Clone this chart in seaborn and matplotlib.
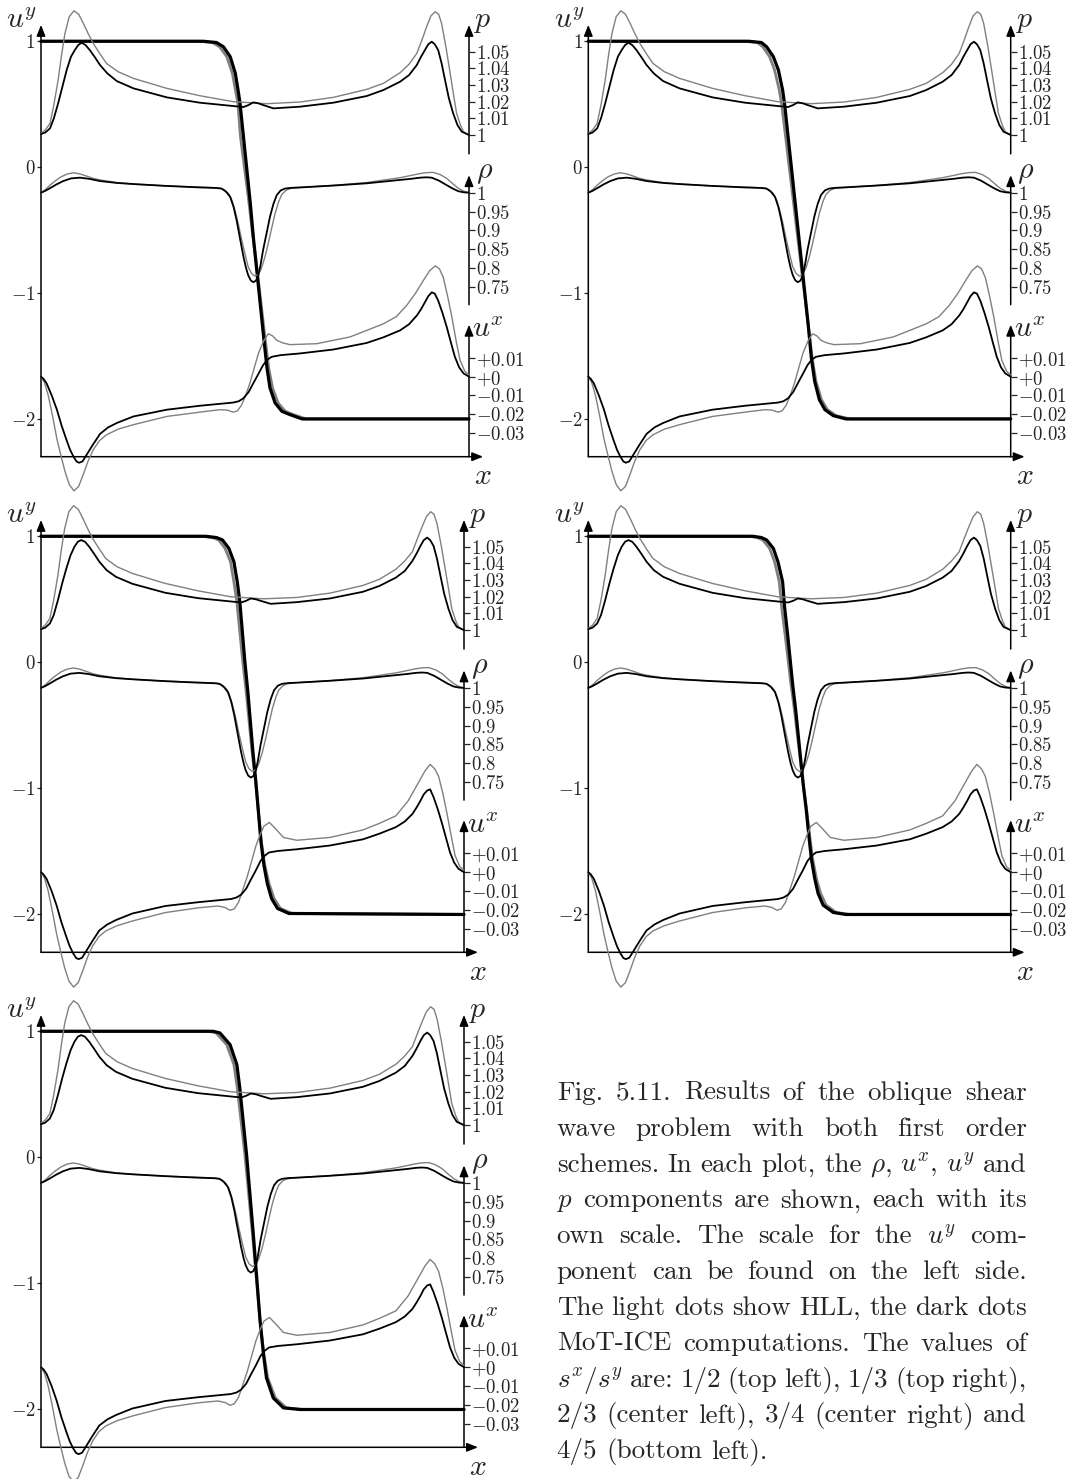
import matplotlib
matplotlib.use("Agg")
import matplotlib.pyplot as plt
import seaborn as sns

# ---------------- data (x is the fraction of the domain) ----------------
# pressure p
P_X_HLL = [0, 0.010, 0.021, 0.030, 0.040, 0.048, 0.056, 0.066, 0.077, 0.088, 0.099, 0.110, 0.122, 0.137,
           0.153, 0.180, 0.216, 0.255, 0.294, 0.371, 0.449, 0.527, 0.605, 0.683, 0.761, 0.800, 0.839, 0.860,
           0.878, 0.890, 0.901, 0.911, 0.921, 0.929, 0.936, 0.946, 0.956, 0.964, 0.971, 0.980, 0.987, 1.0]
P_HLL_A = [1.001, 1.003, 1.007, 1.018, 1.033, 1.048, 1.061, 1.071, 1.0746, 1.0725, 1.067, 1.061, 1.055,
           1.049, 1.043, 1.038, 1.034, 1.031, 1.028, 1.0236, 1.020, 1.0188, 1.0198, 1.0226, 1.0274, 1.031,
           1.0374, 1.0425, 1.049, 1.057, 1.065, 1.0715, 1.074, 1.0725, 1.067, 1.053, 1.037, 1.024, 1.013,
           1.006, 1.002, 1.0]
P_HLL_B = [1.001, 1.003, 1.007, 1.018, 1.033, 1.048, 1.061, 1.071, 1.0746, 1.0725, 1.067, 1.061, 1.055,
           1.049, 1.043, 1.038, 1.034, 1.031, 1.028, 1.0236, 1.020, 1.0188, 1.0196, 1.0222, 1.0268, 1.0305,
           1.0365, 1.0415, 1.047, 1.055, 1.062, 1.068, 1.071, 1.0695, 1.064, 1.051, 1.036, 1.024, 1.013,
           1.006, 1.002, 1.0]
P_X_MOT = [0, 0.010, 0.021, 0.030, 0.040, 0.050, 0.060, 0.070, 0.079, 0.087, 0.095, 0.104, 0.114, 0.125,
           0.138, 0.155, 0.177, 0.216, 0.294, 0.371, 0.449, 0.473, 0.485, 0.496, 0.508, 0.519, 0.543, 0.605,
           0.683, 0.761, 0.800, 0.839, 0.860, 0.878, 0.888, 0.897, 0.905, 0.913, 0.920, 0.928, 0.936, 0.944,
           0.953, 0.963, 0.973, 0.983, 1.0]
P_MOT_A = [1.0006, 1.0015, 1.004, 1.010, 1.019, 1.029, 1.039, 1.047, 1.051, 1.054, 1.0554, 1.054, 1.051,
           1.047, 1.042, 1.037, 1.0324, 1.028, 1.0226, 1.0194, 1.0174, 1.0168, 1.018, 1.0196, 1.019, 1.018,
           1.016, 1.017, 1.0194, 1.0234, 1.027, 1.032, 1.036, 1.042, 1.047, 1.051, 1.0545, 1.056, 1.0545,
           1.051, 1.043, 1.033, 1.022, 1.013, 1.006, 1.002, 1.0]
P_MOT_B = [1.0006, 1.0015, 1.004, 1.009, 1.018, 1.028, 1.037, 1.045, 1.050, 1.053, 1.054, 1.053, 1.050,
           1.046, 1.041, 1.036, 1.032, 1.0278, 1.0224, 1.0192, 1.0172, 1.0166, 1.0176, 1.019, 1.0185, 1.0176,
           1.0158, 1.0168, 1.019, 1.023, 1.0265, 1.0315, 1.0355, 1.0415, 1.046, 1.0505, 1.054, 1.0555, 1.054,
           1.0505, 1.043, 1.033, 1.022, 1.013, 1.006, 1.002, 1.0]

# density rho
R_X_HLL = [0, 0.010, 0.021, 0.035, 0.048, 0.062, 0.076, 0.091, 0.107, 0.122, 0.138, 0.177, 0.216, 0.294,
           0.371, 0.405, 0.418, 0.428, 0.438, 0.446, 0.453, 0.461, 0.469, 0.477, 0.484, 0.492, 0.500, 0.508,
           0.515, 0.523, 0.531, 0.539, 0.547, 0.555, 0.562, 0.572, 0.582, 0.605, 0.683, 0.761, 0.839, 0.865,
           0.886, 0.902, 0.917, 0.933, 0.948, 0.962, 0.975, 0.988, 1.0]
R_HLL = [1.0, 1.008, 1.020, 1.033, 1.043, 1.050, 1.053, 1.050, 1.044, 1.038, 1.034, 1.027, 1.023, 1.018,
         1.015, 1.0135, 1.012, 1.008, 0.998, 0.980, 0.954, 0.917, 0.874, 0.835, 0.803, 0.785, 0.778, 0.783,
         0.799, 0.828, 0.865, 0.906, 0.945, 0.975, 0.994, 1.006, 1.011, 1.014, 1.0195, 1.027, 1.040, 1.046,
         1.051, 1.0535, 1.054, 1.048, 1.038, 1.024, 1.012, 1.004, 1.0]
R_X_MOT = [0, 0.010, 0.021, 0.036, 0.052, 0.070, 0.091, 0.112, 0.138, 0.177, 0.216, 0.294, 0.371, 0.410,
           0.422, 0.432, 0.442, 0.450, 0.457, 0.465, 0.473, 0.479, 0.484, 0.490, 0.496, 0.502, 0.508, 0.513,
           0.519, 0.527, 0.535, 0.543, 0.551, 0.560, 0.570, 0.585, 0.605, 0.683, 0.761, 0.839, 0.865, 0.886,
           0.900, 0.913, 0.930, 0.948, 0.962, 0.975, 0.988, 1.0]
R_MOT = [1.0, 1.005, 1.012, 1.022, 1.031, 1.038, 1.040, 1.037, 1.031, 1.026, 1.023, 1.018, 1.014, 1.0125,
         1.011, 1.003, 0.989, 0.962, 0.927, 0.878, 0.830, 0.800, 0.781, 0.767, 0.762, 0.766, 0.781, 0.808,
         0.848, 0.892, 0.936, 0.970, 0.994, 1.006, 1.011, 1.013, 1.014, 1.019, 1.025, 1.034, 1.037, 1.040,
         1.041, 1.040, 1.032, 1.020, 1.011, 1.004, 1.001, 1.0]

# velocity u^x
UX_X_MOT = [0, 0.006, 0.013, 0.025, 0.037, 0.048, 0.060, 0.068, 0.076, 0.083, 0.089, 0.097, 0.107, 0.122,
            0.138, 0.157, 0.177, 0.216, 0.294, 0.371, 0.449, 0.462, 0.473, 0.485, 0.496, 0.508, 0.519, 0.529,
            0.539, 0.560, 0.605, 0.683, 0.761, 0.800, 0.839, 0.860, 0.878, 0.888, 0.897, 0.905, 0.913, 0.920,
            0.928, 0.938, 0.948, 0.958, 0.967, 0.977, 0.987, 1.0]
UX_MOT_A = [0, -0.0012, -0.0035, -0.010, -0.0175, -0.026, -0.034, -0.039, -0.0427, -0.0452, -0.0459,
            -0.0452, -0.0415, -0.036, -0.0305, -0.027, -0.0247, -0.0212, -0.0176, -0.0155, -0.0138, -0.0131,
            -0.0115, -0.0082, -0.0035, 0.0015, 0.0062, 0.0091, 0.0106, 0.0115, 0.0124, 0.0145, 0.018, 0.021,
            0.0247, 0.028, 0.0326, 0.036, 0.0397, 0.043, 0.045, 0.0443, 0.0406, 0.034, 0.0265, 0.018, 0.0106,
            0.005, 0.0018, 0]
UX_MOT_B = [0, -0.0012, -0.0035, -0.010, -0.0178, -0.0265, -0.0345, -0.0395, -0.0432, -0.0457, -0.0463,
            -0.0456, -0.042, -0.0365, -0.031, -0.0278, -0.0255, -0.022, -0.018, -0.016, -0.0143, -0.0135,
            -0.012, -0.0088, -0.004, 0.001, 0.006, 0.0088, 0.0105, 0.0113, 0.0122, 0.0142, 0.0175, 0.0205,
            0.024, 0.027, 0.031, 0.0345, 0.038, 0.0415, 0.0435, 0.0441, 0.040, 0.0335, 0.026, 0.0178, 0.0105,
            0.005, 0.0018, 0]
UX_X_HLL_A = [0, 0.008, 0.017, 0.027, 0.037, 0.046, 0.056, 0.066, 0.077, 0.088, 0.099, 0.110, 0.122, 0.137,
              0.153, 0.180, 0.216, 0.294, 0.371, 0.418, 0.435, 0.449, 0.459, 0.469, 0.478, 0.488, 0.498,
              0.508, 0.520, 0.531, 0.541, 0.551, 0.565, 0.582, 0.644, 0.722, 0.800, 0.830, 0.854, 0.875,
              0.893, 0.908, 0.921, 0.931, 0.940, 0.950, 0.960, 0.970, 0.979, 0.990, 1.0]
UX_HLL_A = [0, -0.003, -0.010, -0.021, -0.033, -0.0415, -0.0505, -0.0575, -0.0609, -0.0585, -0.052, -0.045,
            -0.039, -0.034, -0.031, -0.028, -0.0256, -0.0212, -0.0189, -0.0176, -0.0178, -0.0189,
            -0.0182, -0.015, -0.010, -0.0035, 0.0045, 0.0124, 0.019, 0.0229, 0.0218, 0.0194, 0.018, 0.0171,
            0.0176, 0.0212, 0.0282, 0.032, 0.0379, 0.0445, 0.0512, 0.0565, 0.0591, 0.0575, 0.0529, 0.043,
            0.0318, 0.019, 0.0088, 0.003, 0.0009]
UX_X_HLL_B = [0, 0.008, 0.017, 0.027, 0.037, 0.046, 0.056, 0.066, 0.077, 0.088, 0.099, 0.110, 0.122, 0.137,
              0.153, 0.180, 0.216, 0.294, 0.371, 0.418, 0.435, 0.447, 0.457, 0.467, 0.477, 0.488, 0.498,
              0.508, 0.518, 0.527, 0.540, 0.555, 0.573, 0.605, 0.683, 0.761, 0.800, 0.839, 0.868, 0.893,
              0.908, 0.920, 0.931, 0.940, 0.950, 0.960, 0.970, 0.979, 0.990, 1.0]
UX_HLL_B = [0, -0.003, -0.010, -0.021, -0.033, -0.0418, -0.051, -0.058, -0.0612, -0.0588, -0.0523, -0.0453,
            -0.0393, -0.0343, -0.0313, -0.0285, -0.026, -0.0215, -0.019, -0.018, -0.0188, -0.0203,
            -0.0195, -0.016, -0.0095, -0.002, 0.006, 0.014, 0.020, 0.0245, 0.0265, 0.023, 0.0185, 0.017,
            0.0185, 0.0225, 0.026, 0.030, 0.038, 0.048, 0.054, 0.0574, 0.055, 0.051, 0.042, 0.031, 0.019,
            0.0088, 0.003, 0.0009]

# velocity u^y, one profile per panel (TL, TR, CL, CR, BL)
UY_X_MOT_TL = [0, 0.38, 0.41, 0.426, 0.442, 0.454, 0.461, 0.465, 0.473, 0.481, 0.489, 0.496, 0.504, 0.512,
               0.520, 0.528, 0.535, 0.547, 0.563, 0.582, 0.61, 1.0]
UY_X_HLL_TL = [0, 0.37, 0.40, 0.417, 0.434, 0.447, 0.455, 0.460, 0.466, 0.476, 0.486, 0.495, 0.505, 0.514,
               0.523, 0.532, 0.541, 0.554, 0.571, 0.590, 0.62, 1.0]
UY_TL = [1, 1, 0.99, 0.957, 0.878, 0.746, 0.600, 0.508, 0.243, -0.021, -0.286, -0.551, -0.815, -1.079,
         -1.344, -1.595, -1.754, -1.873, -1.940, -1.966, -2.0, -2.0]

UY_X_MOT_TR = [0, 0.38, 0.41, 0.422, 0.438, 0.450, 0.460, 0.465, 0.473, 0.481, 0.489, 0.497, 0.505, 0.513,
               0.521, 0.528, 0.536, 0.547, 0.560, 0.580, 0.61, 1.0]
UY_X_HLL_TR = [0, 0.37, 0.40, 0.413, 0.429, 0.441, 0.452, 0.458, 0.467, 0.476, 0.485, 0.494, 0.503, 0.512,
               0.521, 0.530, 0.539, 0.552, 0.566, 0.587, 0.62, 1.0]
UY_TR = [1, 1, 0.99, 0.957, 0.878, 0.772, 0.613, 0.494, 0.243, -0.008, -0.259, -0.511, -0.762, -1.013,
         -1.265, -1.516, -1.702, -1.847, -1.926, -1.974, -2.0, -2.0]

UY_X_MOT_CL = [0, 0.39, 0.415, 0.429, 0.444, 0.456, 0.464, 0.470, 0.476, 0.482, 0.489, 0.495, 0.501, 0.508,
               0.514, 0.520, 0.527, 0.535, 0.545, 0.559, 0.586, 1.0]
UY_X_HLL_CL = [0, 0.38, 0.405, 0.420, 0.435, 0.448, 0.456, 0.463, 0.470, 0.477, 0.485, 0.492, 0.499, 0.507,
               0.514, 0.521, 0.529, 0.539, 0.551, 0.566, 0.594, 1.0]
UY_CL = [1, 1, 0.99, 0.971, 0.905, 0.798, 0.640, 0.481, 0.243, 0.005, -0.233, -0.471, -0.710, -0.948,
         -1.186, -1.424, -1.609, -1.754, -1.873, -1.952, -1.992, -2.0]

UY_X_MOT_CR = [0, 0.39, 0.41, 0.422, 0.438, 0.449, 0.460, 0.465, 0.472, 0.478, 0.484, 0.491, 0.497, 0.503,
               0.509, 0.516, 0.522, 0.528, 0.536, 0.544, 0.556, 0.580, 0.61, 1.0]
UY_X_HLL_CR = [0, 0.38, 0.40, 0.413, 0.429, 0.441, 0.452, 0.458, 0.466, 0.473, 0.480, 0.488, 0.495, 0.502,
               0.509, 0.517, 0.524, 0.531, 0.540, 0.550, 0.563, 0.587, 0.62, 1.0]
UY_CR = [1, 1, 0.99, 0.971, 0.905, 0.798, 0.640, 0.429, 0.217, 0.018, -0.180, -0.379, -0.577, -0.775,
         -0.974, -1.172, -1.371, -1.556, -1.714, -1.833, -1.926, -1.984, -2.0, -2.0]

UY_X_MOT_BL = [0, 0.407, 0.423, 0.447, 0.463, 0.470, 0.478, 0.486, 0.494, 0.502, 0.510, 0.518, 0.526,
               0.533, 0.549, 0.573, 0.612, 1.0]
UY_X_HLL_BL = [0, 0.397, 0.414, 0.439, 0.456, 0.464, 0.473, 0.482, 0.491, 0.500, 0.509, 0.518, 0.527,
               0.536, 0.554, 0.580, 0.62, 1.0]
UY_BL = [1, 1, 0.987, 0.894, 0.736, 0.551, 0.286, 0.022, -0.295, -0.612, -0.956, -1.300, -1.564, -1.749,
         -1.908, -1.987, -2.0, -2.0]

UY_TICKS = [-2, -1, 0, 1]
UY_LABELS = [r"$-2$", r"$-1$", r"$0$", r"$1$"]
P_TICKS = [1.0, 1.01, 1.02, 1.03, 1.04, 1.05]
P_LABELS = [r"$1$", r"$1.01$", r"$1.02$", r"$1.03$", r"$1.04$", r"$1.05$"]
R_TICKS = [0.75, 0.8, 0.85, 0.9, 0.95, 1.0]
R_LABELS = [r"$0.75$", r"$0.8$", r"$0.85$", r"$0.9$", r"$0.95$", r"$1$"]
UX_TICKS = [-0.03, -0.02, -0.01, 0.0, 0.01]
UX_LABELS = [r"$-0.03$", r"$-0.02$", r"$-0.01$", r"$+0$", r"$+0.01$"]

CAPTION = [
    r"Fig. 5.11. Results of the oblique shear",
    r"wave problem with both first order",
    r"schemes. In each plot, the $\rho$, $u^x$, $u^y$ and",
    r"$p$ components are shown, each with its",
    r"own scale. The scale for the $u^y$ com-",
    r"ponent can be found on the left side.",
    r"The light dots show HLL, the dark dots",
    r"MoT-ICE computations. The values of",
    r"$s^x/s^y$ are: 1/2 (top left), 1/3 (top right),",
    r"2/3 (center left), 3/4 (center right) and",
    r"4/5 (bottom left).",
]

# ---------------- style ----------------
sns.set_style("white")
plt.rcParams.update({
    "font.family": "cmr10",
    "mathtext.fontset": "cm",
    "axes.unicode_minus": False,
    "axes.formatter.use_mathtext": True,
})

W, H = 1091, 1479
fig = plt.figure(figsize=(W / 100, H / 100), dpi=100)

GRAY = "#808080"
BLACK = "#000000"
UY_LIM = (-2.3, 1.13)
P_LIM = (0.8069, 1.0661)
R_LIM = (0.2979, 1.4463)
UX_LIM = (-0.04267, 0.18763)
TICK_FS = 13.5
LAB_FS = 21.5


def curve(ax, x, y, color, lw):
    sns.lineplot(x=x, y=y, ax=ax, color=color, linewidth=lw, sort=False,
                 estimator=None, legend=False)
    ln = ax.lines[-1]
    ln.set_clip_on(False)
    ln.set_solid_capstyle("round")
    ln.set_solid_joinstyle("round")


def arrow(ax, x0, y0, x1, y1):
    ax.annotate("", xy=(x1, y1), xytext=(x0, y0), xycoords="axes fraction",
                textcoords="axes fraction", annotation_clip=False,
                arrowprops=dict(arrowstyle="-|>,head_length=0.55,head_width=0.22",
                                color="k", lw=1.1, shrinkA=0, shrinkB=0,
                                mutation_scale=12))


def clean(a):
    for s in a.spines.values():
        s.set_visible(False)
    a.set_xlim(0, 1)
    a.set_xticks([])
    a.set_xlabel("")
    a.set_ylabel("")
    a.patch.set_visible(False)


def twin(ax, lim, ticks, labels):
    tw = ax.twinx()
    clean(tw)
    tw.set_ylim(*lim)
    tw.set_yticks(ticks)
    tw.set_yticklabels(labels)
    tw.tick_params(axis="y", right=True, left=False, labelright=True, labelleft=False,
                   direction="out", length=4, width=0.9, pad=1, labelsize=TICK_FS)
    return tw


def panel(rect, uy_x_mot, uy_x_hll, uy, p_hll, p_mot, ux_x_hll, ux_hll, ux_mot):
    l, r, t, b = rect
    ax = fig.add_axes([l / W, 1 - b / H, (r - l) / W, (b - t) / H])
    clean(ax)
    ax.set_ylim(*UY_LIM)
    ax.set_yticks(UY_TICKS)
    ax.set_yticklabels(UY_LABELS)
    ax.tick_params(axis="y", left=True, direction="out", length=3, width=0.9,
                   pad=1, labelsize=TICK_FS)

    tp = twin(ax, P_LIM, P_TICKS, P_LABELS)
    tr = twin(ax, R_LIM, R_TICKS, R_LABELS)
    tu = twin(ax, UX_LIM, UX_TICKS, UX_LABELS)

    # u^y (left scale)
    curve(ax, uy_x_hll, uy, GRAY, 2.0)
    curve(ax, uy_x_mot, uy, BLACK, 2.3)
    # p
    curve(tp, P_X_HLL, p_hll, GRAY, 1.0)
    curve(tp, P_X_MOT, p_mot, BLACK, 1.3)
    # rho
    curve(tr, R_X_HLL, R_HLL, GRAY, 1.0)
    curve(tr, R_X_MOT, R_MOT, BLACK, 1.3)
    # u^x
    curve(tu, ux_x_hll, ux_hll, GRAY, 1.0)
    curve(tu, UX_X_MOT, ux_mot, BLACK, 1.3)
    for a, lim in ((tp, P_LIM), (tr, R_LIM), (tu, UX_LIM)):
        a.set_ylim(*lim)
        a.set_xlim(0, 1)
    ax.set_ylim(*UY_LIM)
    ax.set_xlim(0, 1)

    # axis lines with arrow heads
    arrow(ax, 0, 0, 0, 1)
    arrow(ax, 0, 0, 1.033, 0)
    arrow(ax, 1, 0.7013, 1, 1.0)
    arrow(ax, 1, 0.352, 1, 0.652)
    arrow(ax, 1, 0.0, 1, 0.3056)

    ax.text(-0.008, 0.992, r"$u^y$", transform=ax.transAxes, ha="right", va="baseline", fontsize=LAB_FS)
    ax.text(1.012, 0.994, r"$p$", transform=ax.transAxes, ha="left", va="baseline", fontsize=LAB_FS)
    ax.text(1.016, 0.645, r"$\rho$", transform=ax.transAxes, ha="left", va="baseline", fontsize=LAB_FS)
    ax.text(1.008, 0.277, r"$u^x$", transform=ax.transAxes, ha="left", va="baseline", fontsize=LAB_FS)
    ax.text(1.012, -0.063, r"$x$", transform=ax.transAxes, ha="left", va="baseline", fontsize=LAB_FS)


panel((41, 469, 24.9, 456.7), UY_X_MOT_TL, UY_X_HLL_TL, UY_TL, P_HLL_A, P_MOT_A, UX_X_HLL_A, UX_HLL_A, UX_MOT_A)
panel((588.3, 1010.7, 24.9, 456.7), UY_X_MOT_TR, UY_X_HLL_TR, UY_TR, P_HLL_A, P_MOT_A, UX_X_HLL_A, UX_HLL_A, UX_MOT_A)
panel((41, 464, 519.9, 952.3), UY_X_MOT_CL, UY_X_HLL_CL, UY_CL, P_HLL_B, P_MOT_B, UX_X_HLL_B, UX_HLL_B, UX_MOT_B)
panel((588.3, 1010.7, 519.9, 952.3), UY_X_MOT_CR, UY_X_HLL_CR, UY_CR, P_HLL_B, P_MOT_B, UX_X_HLL_B, UX_HLL_B, UX_MOT_B)
panel((41, 464, 1014.9, 1447.3), UY_X_MOT_BL, UY_X_HLL_BL, UY_BL, P_HLL_B, P_MOT_B, UX_X_HLL_B, UX_HLL_B, UX_MOT_B)

# ---------------- justified caption ----------------
CAP_FS = 19.5
CAP_LEFT, CAP_RIGHT = 556.7, 1026.7
CAP_BASE0, CAP_DY = 1100.0, 35.83
renderer = fig.canvas.get_renderer()
space_t = fig.text(0, 0, "a a", fontsize=CAP_FS)
aa_t = fig.text(0, 0, "aa", fontsize=CAP_FS)
space_w = space_t.get_window_extent(renderer).width - aa_t.get_window_extent(renderer).width
space_t.remove()
aa_t.remove()
for i, line in enumerate(CAPTION):
    words = line.split(" ")
    yb = 1 - (CAP_BASE0 + i * CAP_DY) / H
    texts = [fig.text(0, yb, w, fontsize=CAP_FS, ha="left", va="baseline") for w in words]
    widths = [t.get_window_extent(renderer).width for t in texts]
    if i < len(CAPTION) - 1 and len(words) > 1:
        gap = (CAP_RIGHT - CAP_LEFT - sum(widths)) / (len(words) - 1)
        gap = max(gap, 0.5 * space_w)
    else:
        gap = space_w
    xpos = CAP_LEFT
    for t, w in zip(texts, widths):
        t.set_x(xpos / W)
        xpos += w + gap

fig.savefig("out.png", dpi=100)
